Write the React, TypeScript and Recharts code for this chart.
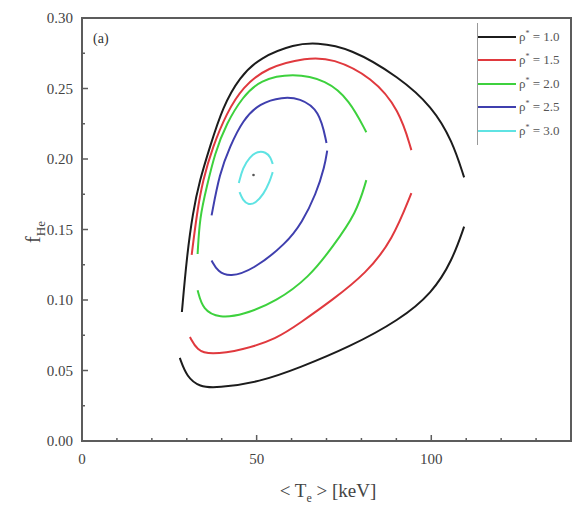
import React from 'react';
import {
  ComposedChart,
  Line,
  Scatter,
  XAxis,
  YAxis,
  ReferenceArea,
  Label,
} from 'recharts';

// contour branches: [<Te> keV, f_He]
const rho10Upper = [
  [28.6, 0.0915], [30.0, 0.1305], [31.7, 0.1617], [33.7, 0.185], [36.6, 0.2085],
  [40.3, 0.237], [45.1, 0.258], [50.9, 0.272], [61.0, 0.2815], [67.0, 0.2825],
  [76.6, 0.279], [90.9, 0.258], [100.3, 0.237], [106.0, 0.213], [109.4, 0.187],
];
const rho10Lower = [
  [28.0, 0.0589], [30.0, 0.0454], [33.7, 0.0383], [38.6, 0.0376], [50.9, 0.0418],
  [62.3, 0.052], [76.6, 0.0667], [90.9, 0.0858], [100.3, 0.105], [106.0, 0.128],
  [109.4, 0.152],
];
const rho15Upper = [
  [31.4, 0.132], [32.9, 0.1617], [34.6, 0.185], [37.4, 0.2085], [41.4, 0.2326],
  [46.0, 0.251], [52.9, 0.265], [64.3, 0.272], [71.7, 0.2716], [83.1, 0.258],
  [90.9, 0.2347], [94.3, 0.2063],
];
const rho15Lower = [
  [30.9, 0.0737], [32.9, 0.0645], [36.6, 0.061], [46.0, 0.0645], [55.7, 0.0725],
  [62.3, 0.0835], [71.7, 0.1], [81.4, 0.119], [88.9, 0.1425], [94.3, 0.1758],
];
const rho20Upper = [
  [33.1, 0.1326], [33.7, 0.1588], [35.7, 0.18], [38.0, 0.204], [41.4, 0.2255],
  [46.0, 0.244], [50.9, 0.256], [60.3, 0.261], [70.0, 0.256], [76.6, 0.2418],
  [81.4, 0.219],
];
const rho20Lower = [
  [33.1, 0.107], [34.6, 0.0929], [39.4, 0.0872], [46.0, 0.0893], [55.7, 0.099],
  [65.1, 0.1163], [71.7, 0.1375], [78.6, 0.1617], [81.4, 0.185],
];
const rho25Upper = [
  [37.1, 0.16], [39.4, 0.19], [42.3, 0.2085], [46.0, 0.2276], [50.9, 0.2397],
  [57.4, 0.244], [62.3, 0.2432], [68.0, 0.2347], [70.0, 0.2113],
];
const rho25Lower = [
  [37.1, 0.128], [38.9, 0.12], [42.3, 0.1163], [48.9, 0.1212], [58.6, 0.1404],
  [63.0, 0.155], [67.0, 0.175], [69.5, 0.195], [70.2, 0.206],
];
const rho30Upper = [
  [44.9, 0.1829], [46.0, 0.1936], [48.0, 0.2014], [50.3, 0.2056], [52.6, 0.2049],
  [54.0, 0.2014], [54.6, 0.1964],
];
const rho30Lower = [
  [45.1, 0.1765], [46.0, 0.1709], [47.7, 0.1673], [49.7, 0.1687], [52.0, 0.1751],
  [53.7, 0.1836], [54.6, 0.1907],
];
const centerPoint = [[49.1, 0.1886]];

const rhoLabels = ['1.0', '1.5', '2.0', '2.5', '3.0'];
const seriesColors = ['#1c1c1c', '#e0393e', '#3dd13d', '#3f3fae', '#5fe3e3'];
const xTicks = [0, 10, 20, 30, 40, 50, 60, 70, 80, 90, 100, 110, 120, 130, 140];
const yTicks = [0, 0.025, 0.05, 0.075, 0.1, 0.125, 0.15, 0.175, 0.2, 0.225, 0.25, 0.275, 0.3];

const branches = [
  [rho10Upper, rho10Lower],
  [rho15Upper, rho15Lower],
  [rho20Upper, rho20Lower],
  [rho25Upper, rho25Lower],
  [rho30Upper, rho30Lower],
];

const toPoints = (arr: number[][]) => arr.map(([x, y]) => ({ x, y }));

const SERIF = '"Liberation Serif", "Times New Roman", serif';
const AXIS_COLOR = '#5c5c5c';
const TEXT_COLOR = '#444';
const X_MARGIN = 12;
const Y_MARGIN = 9;

const XTick = ({ x, y, payload }: any) => {
  const v = payload.value;
  const major = v % 50 === 0;
  const axisY = y - X_MARGIN;
  return (
    <g>
      <line x1={x} x2={x} y1={axisY} y2={axisY - (major ? 6 : 3)} stroke={AXIS_COLOR} strokeWidth={1.5} />
      {major && (
        <text x={x} y={y} dy="0.71em" textAnchor="middle" fontSize={15} fill={TEXT_COLOR} fontFamily={SERIF}>
          {v}
        </text>
      )}
    </g>
  );
};

const YTick = ({ x, y, payload }: any) => {
  const v = payload.value;
  const major = Math.round(v * 1000) % 50 === 0;
  const axisX = x + Y_MARGIN;
  return (
    <g>
      <line x1={axisX} x2={axisX + (major ? 6 : 3)} y1={y} y2={y} stroke={AXIS_COLOR} strokeWidth={1.5} />
      {major && (
        <text x={x} y={y} dy="0.35em" textAnchor="end" fontSize={15} fill={TEXT_COLOR} fontFamily={SERIF}>
          {v.toFixed(2)}
        </text>
      )}
    </g>
  );
};

const LegendBox = () => (
  <div
    style={{
      position: 'absolute',
      left: 477,
      top: 23,
      width: 94,
      borderLeft: '1px solid #999',
      padding: '2px 0',
      fontFamily: SERIF,
    }}
  >
    {rhoLabels.map((lab, i) => (
      <div key={lab} style={{ display: 'flex', alignItems: 'center', height: 23.5 }}>
        <span style={{ display: 'inline-block', width: 38, height: 2, background: seriesColors[i] }} />
        <span style={{ marginLeft: 3, fontSize: 13, color: '#555', whiteSpace: 'nowrap' }}>
          ρ<sup style={{ fontSize: 8 }}>*</sup> = {lab}
        </span>
      </div>
    ))}
  </div>
);

export default function App() {
  return (
    <div style={{ position: 'relative', width: 573, height: 506, background: '#fff' }}>
      <style>{'body{margin:0}'}</style>
      <ComposedChart width={573} height={506} margin={{ top: 18, right: 2, bottom: 35, left: 0 }}>
        <XAxis
          type="number"
          dataKey="x"
          domain={[0, 140]}
          ticks={xTicks}
          interval={0}
          height={30}
          tick={<XTick />}
          tickSize={0}
          tickMargin={X_MARGIN}
          axisLine={{ stroke: AXIS_COLOR, strokeWidth: 2 }}
        >
          <Label
            content={() => (
              <text x={328} y={497} textAnchor="middle" fontSize={19} fill={TEXT_COLOR} fontFamily={SERIF}>
                {'< T'}
                <tspan fontSize={12} dy={5}>e</tspan>
                <tspan dy={-5}>{' > [keV]'}</tspan>
              </text>
            )}
          />
        </XAxis>
        <YAxis
          type="number"
          dataKey="y"
          domain={[0, 0.3]}
          ticks={yTicks}
          interval={0}
          width={82}
          tick={<YTick />}
          tickSize={0}
          tickMargin={Y_MARGIN}
          axisLine={{ stroke: AXIS_COLOR, strokeWidth: 2 }}
        >
          <Label
            content={() => (
              <text
                x={0}
                y={0}
                transform="translate(40,232) rotate(-90)"
                textAnchor="middle"
                fontSize={20}
                fill={TEXT_COLOR}
                fontFamily={SERIF}
              >
                f
                <tspan fontSize={13} dy={5}>He</tspan>
              </text>
            )}
          />
        </YAxis>
        <ReferenceArea
          x1={0}
          x2={140}
          y1={0}
          y2={0.3}
          fill="none"
          stroke={AXIS_COLOR}
          strokeWidth={2}
          ifOverflow="visible"
        >
          <Label
            content={() => (
              <text x={93} y={43} fontSize={14} fill="#333" fontFamily={SERIF}>
                (a)
              </text>
            )}
          />
        </ReferenceArea>
        {branches.map((pair, i) =>
          pair.map((arr, j) => (
            <Line
              key={`${i}-${j}`}
              data={toPoints(arr)}
              dataKey="y"
              type="basis"
              stroke={seriesColors[i]}
              strokeWidth={2}
              dot={false}
              activeDot={false}
              legendType="none"
              isAnimationActive={false}
            />
          ))
        )}
        <Scatter
          data={toPoints(centerPoint)}
          dataKey="y"
          fill="#555"
          shape={(p: any) => <circle cx={p.cx} cy={p.cy} r={1.3} fill="#555" />}
          isAnimationActive={false}
        />
      </ComposedChart>
      <LegendBox />
    </div>
  );
}
